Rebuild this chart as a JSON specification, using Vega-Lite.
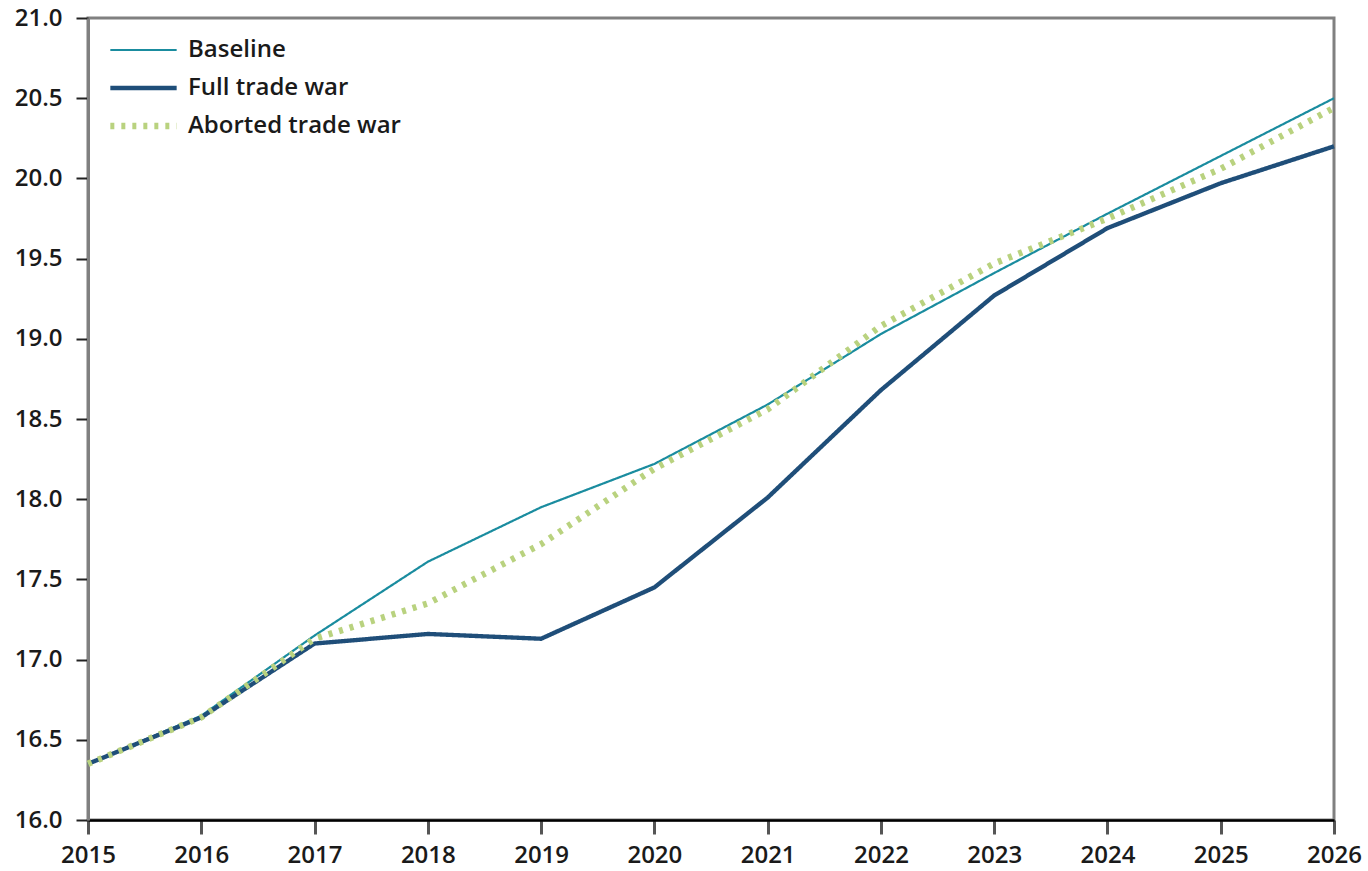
{
  "$schema": "https://vega.github.io/schema/vega-lite/v6.json",
  "width": 1246,
  "height": 802,
  "autosize": {"type": "none"},
  "padding": {"left": 88, "top": 18, "right": 34, "bottom": 51},
  "background": "white",
  "config": {
    "view": {"stroke": "#808080", "strokeWidth": 3},
    "font": "Open Sans"
  },
  "data": {
    "values": [
      {"year": 2015, "series": "Baseline", "value": 16.35},
      {"year": 2016, "series": "Baseline", "value": 16.65},
      {"year": 2017, "series": "Baseline", "value": 17.15},
      {"year": 2018, "series": "Baseline", "value": 17.61},
      {"year": 2019, "series": "Baseline", "value": 17.95},
      {"year": 2020, "series": "Baseline", "value": 18.22},
      {"year": 2021, "series": "Baseline", "value": 18.59},
      {"year": 2022, "series": "Baseline", "value": 19.03},
      {"year": 2023, "series": "Baseline", "value": 19.41},
      {"year": 2024, "series": "Baseline", "value": 19.78},
      {"year": 2025, "series": "Baseline", "value": 20.14},
      {"year": 2026, "series": "Baseline", "value": 20.5},
      {"year": 2015, "series": "Full trade war", "value": 16.35},
      {"year": 2016, "series": "Full trade war", "value": 16.64},
      {"year": 2017, "series": "Full trade war", "value": 17.1},
      {"year": 2018, "series": "Full trade war", "value": 17.16},
      {"year": 2019, "series": "Full trade war", "value": 17.13},
      {"year": 2020, "series": "Full trade war", "value": 17.45},
      {"year": 2021, "series": "Full trade war", "value": 18.01},
      {"year": 2022, "series": "Full trade war", "value": 18.68},
      {"year": 2023, "series": "Full trade war", "value": 19.27},
      {"year": 2024, "series": "Full trade war", "value": 19.69},
      {"year": 2025, "series": "Full trade war", "value": 19.97},
      {"year": 2026, "series": "Full trade war", "value": 20.2},
      {"year": 2015, "series": "Aborted trade war", "value": 16.35},
      {"year": 2016, "series": "Aborted trade war", "value": 16.64},
      {"year": 2017, "series": "Aborted trade war", "value": 17.13},
      {"year": 2018, "series": "Aborted trade war", "value": 17.35},
      {"year": 2019, "series": "Aborted trade war", "value": 17.72},
      {"year": 2020, "series": "Aborted trade war", "value": 18.19},
      {"year": 2021, "series": "Aborted trade war", "value": 18.56},
      {"year": 2022, "series": "Aborted trade war", "value": 19.08},
      {"year": 2023, "series": "Aborted trade war", "value": 19.47},
      {"year": 2024, "series": "Aborted trade war", "value": 19.75},
      {"year": 2025, "series": "Aborted trade war", "value": 20.06},
      {"year": 2026, "series": "Aborted trade war", "value": 20.44}
    ]
  },
  "mark": {"type": "line", "strokeCap": "butt", "strokeJoin": "round"},
  "encoding": {
    "x": {
      "field": "year",
      "type": "quantitative",
      "scale": {"domain": [2015, 2026], "nice": false, "zero": false},
      "axis": {
        "title": null,
        "values": [2015, 2016, 2017, 2018, 2019, 2020, 2021, 2022, 2023, 2024, 2025, 2026],
        "format": "d",
        "grid": false,
        "domainColor": "#000000",
        "domainWidth": 2.5,
        "ticks": true,
        "tickColor": "#555555",
        "tickWidth": 3,
        "tickSize": 14,
        "labelFontSize": 24,
        "labelFontWeight": 600,
        "labelColor": "#1a1a1a",
        "labelPadding": 9,
        "labelOverlap": false,
        "labelFlush": false
      }
    },
    "y": {
      "field": "value",
      "type": "quantitative",
      "scale": {"domain": [16, 21], "nice": false, "zero": false},
      "axis": {
        "title": null,
        "values": [16, 16.5, 17, 17.5, 18, 18.5, 19, 19.5, 20, 20.5, 21],
        "format": ".1f",
        "grid": false,
        "domainColor": "#808080",
        "domainWidth": 3,
        "tickColor": "#222222",
        "tickWidth": 2,
        "tickSize": 12,
        "labelFontSize": 24,
        "labelFontWeight": 600,
        "labelColor": "#1a1a1a",
        "labelPadding": 14
      }
    },
    "color": {
      "field": "series",
      "type": "nominal",
      "sort": ["Baseline", "Full trade war", "Aborted trade war"],
      "scale": {
        "domain": ["Baseline", "Full trade war", "Aborted trade war"],
        "range": ["#1a8c9f", "#1f4e79", "#b9d27f"]
      },
      "legend": {
        "title": null,
        "orient": "none",
        "legendX": 19,
        "legendY": 13,
        "symbolType": "stroke",
        "symbolSize": 4400,
        "labelFontSize": 24,
        "labelFontWeight": 600,
        "labelColor": "#1a1a1a",
        "labelOffset": 8,
        "labelLimit": 400,
        "clipHeight": 38,
        "rowPadding": 0,
        "symbolStrokeWidth": 4
      }
    },
    "strokeDash": {
      "field": "series",
      "type": "nominal",
      "sort": ["Baseline", "Full trade war", "Aborted trade war"],
      "scale": {
        "domain": ["Baseline", "Full trade war", "Aborted trade war"],
        "range": [[1, 0], [1, 0], [4, 7]]
      },
      "legend": null
    },
    "strokeWidth": {
      "field": "series",
      "type": "nominal",
      "sort": ["Baseline", "Full trade war", "Aborted trade war"],
      "scale": {
        "domain": ["Baseline", "Full trade war", "Aborted trade war"],
        "range": [2.2, 6.5, 4]
      },
      "legend": null
    }
  }
}
